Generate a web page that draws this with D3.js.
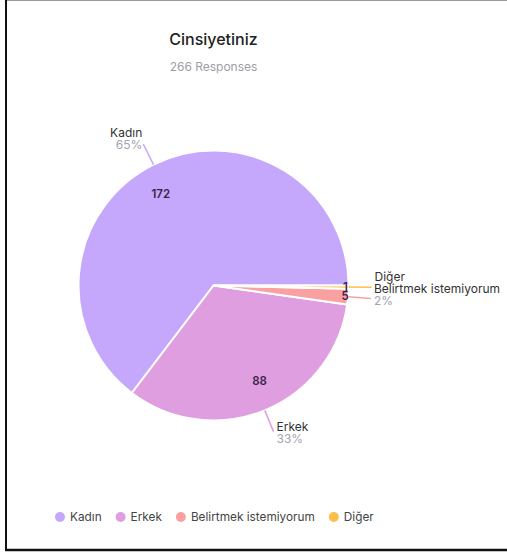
<!DOCTYPE html>
<html>
<head>
<meta charset="utf-8">
<script src="https://cdn.jsdelivr.net/npm/d3@7"></script>
<style>
  body { margin: 0; background: #fff; }
  svg { display: block; font-family: Inter, "Noto Sans", sans-serif; }
</style>
</head>
<body>
<div id="chart-area"></div>
<script>
const categories = ["Kadın", "Erkek", "Belirtmek istemiyorum", "Diğer"];
const counts = [172, 88, 5, 1];
const colors = ["#c5a8fb", "#df9ee0", "#f9a0a0", "#fcbf4a"];
const title = "Cinsiyetiniz";
const subtitle = "266 Responses";

const WIDTH = 507, HEIGHT = 553;
const CX = 213.5, CY = 285.5, R = 135;

const svg = d3.select("#chart-area").append("svg")
  .attr("width", WIDTH)
  .attr("height", HEIGHT);

// frame lines
svg.append("line").attr("x1", 6).attr("x2", WIDTH).attr("y1", 0.5).attr("y2", 0.5)
  .attr("stroke", "#999").attr("stroke-width", 1);
svg.append("line").attr("x1", 6).attr("x2", 6).attr("y1", 0).attr("y2", 551)
  .attr("stroke", "#111").attr("stroke-width", 2);
svg.append("line").attr("x1", 5).attr("x2", WIDTH).attr("y1", 550).attr("y2", 550)
  .attr("stroke", "#111").attr("stroke-width", 2.5);

svg.append("text")
  .attr("x", 213.5).attr("y", 45)
  .attr("text-anchor", "middle")
  .attr("font-size", 16).attr("font-weight", 500)
  .attr("fill", "#222")
  .text(title);

svg.append("text")
  .attr("x", 213.5).attr("y", 71)
  .attr("text-anchor", "middle")
  .attr("font-size", 12)
  .attr("fill", "#9d9daa")
  .text(subtitle);

const data = categories.map((c, i) => ({ name: c, value: counts[i], color: colors[i] }));
const total = d3.sum(counts);

// counterclockwise from 3 o'clock
const pie = d3.pie()
  .value(d => d.value)
  .sort(null)
  .startAngle(Math.PI / 2)
  .endAngle(Math.PI / 2 - 2 * Math.PI);

const arcs = pie(data);
const arc = d3.arc().innerRadius(0).outerRadius(R);

const g = svg.append("g").attr("transform", `translate(${CX}, ${CY})`);

g.selectAll("path")
  .data(arcs)
  .enter().append("path")
  .attr("d", arc)
  .attr("fill", d => d.data.color)
  .attr("stroke", "#fff")
  .attr("stroke-width", 2)
  .attr("stroke-linejoin", "round");

const mid = d => (d.startAngle + d.endAngle) / 2;
const pt = (a, r) => [r * Math.sin(a), -r * Math.cos(a)];
const small = d => Math.abs(d.endAngle - d.startAngle) < 0.3;

// value labels (nudged a little counterclockwise, like the original)
g.selectAll("text.val")
  .data(arcs)
  .enter().append("text")
  .attr("class", "val")
  .attr("x", d => pt(small(d) ? mid(d) : mid(d) - 0.06, small(d) ? 132 : 106)[0])
  .attr("y", d => pt(small(d) ? mid(d) : mid(d) - 0.06, small(d) ? 132 : 106)[1] + 4)
  .attr("text-anchor", "middle")
  .attr("font-size", 11.5).attr("font-weight", 600)
  .attr("fill", "#3b1f4c")
  .text(d => d.value);

// leader lines
g.selectAll("line.lead")
  .data(arcs)
  .enter().append("line")
  .attr("x1", d => pt(mid(d), R)[0])
  .attr("y1", d => pt(mid(d), R)[1])
  .attr("x2", d => pt(mid(d), R + 23)[0])
  .attr("y2", d => pt(mid(d), R + 23)[1])
  .attr("stroke", d => d.data.color)
  .attr("stroke-width", 1.5);

// outer labels
const lab = g.selectAll("g.lab")
  .data(arcs)
  .enter().append("g")
  .attr("class", "lab")
  .attr("transform", d => {
    const [x, y] = pt(mid(d), R + 23);
    const right = x > 0;
    const up = Math.cos(mid(d)); // >0 when upper half
    const yb = y - 6 + 6 * Math.max(0, -up) - (up > 0.5 ? 1 : 0);
    return `translate(${right ? x + 3 : x - 1}, ${yb})`;
  })
  .attr("text-anchor", d => pt(mid(d), 1)[0] > 0 ? "start" : "end");

lab.append("text")
  .attr("font-size", 12)
  .attr("fill", "#333")
  .text(d => d.data.name);

lab.filter(d => Math.round(d.value / total * 100) > 0)
  .append("text")
  .attr("y", 12)
  .attr("font-size", 12)
  .attr("fill", "#a3a3b2")
  .text(d => Math.round(d.value / total * 100) + "%");

// legend
const legend = svg.append("g").attr("transform", "translate(60, 517)");
let lx = 0;
data.forEach(d => {
  const item = legend.append("g").attr("transform", `translate(${lx}, 0)`);
  item.append("circle").attr("cx", 0).attr("cy", 0).attr("r", 5).attr("fill", d.color);
  const t = item.append("text")
    .attr("x", 10).attr("y", 4)
    .attr("font-size", 11.8)
    .attr("fill", "#444")
    .text(d.name);
  lx += 10 + t.node().getComputedTextLength() + 19;
});
</script>
</body>
</html>
